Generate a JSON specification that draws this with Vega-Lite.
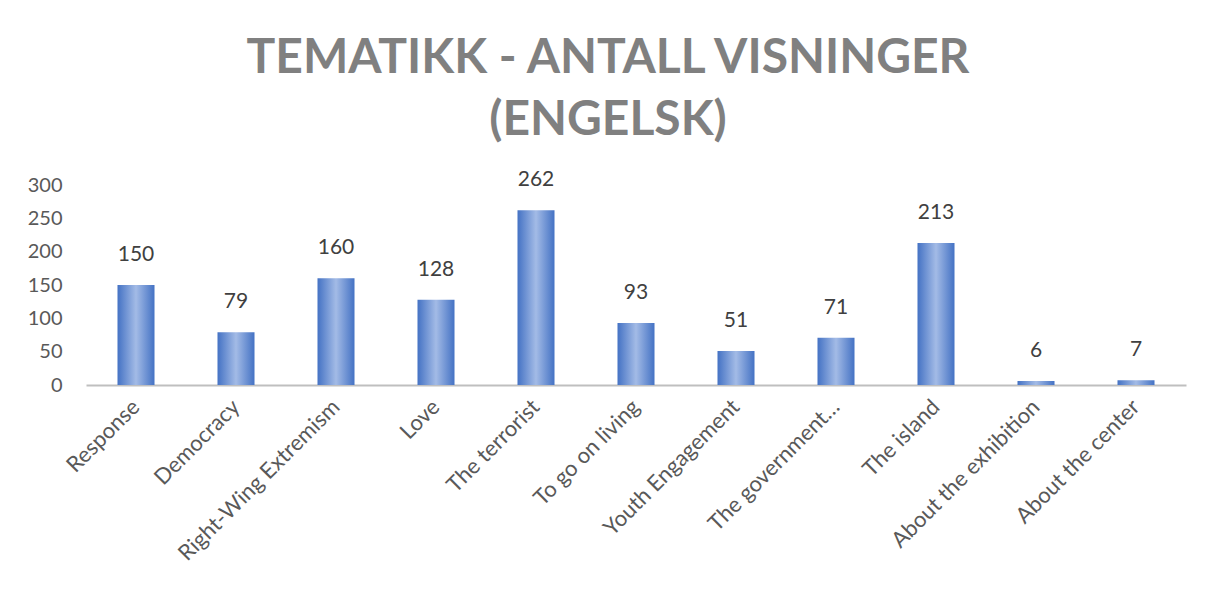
{
  "$schema": "https://vega.github.io/schema/vega-lite/v6.json",
  "width": 1100,
  "height": 200,
  "autosize": {"type": "none"},
  "padding": {"left": 86, "top": 185, "right": 26, "bottom": 211},
  "background": "white",
  "title": {
    "text": ["TEMATIKK - ANTALL VISNINGER", "(ENGELSK)"],
    "font": "Lato",
    "fontSize": 48,
    "fontWeight": "bold",
    "color": "#808080",
    "lineHeight": 62,
    "anchor": "middle",
    "offset": 24,
    "dx": -28
  },
  "data": {
    "values": [
      {"tema": "Response", "visninger": 150},
      {"tema": "Democracy", "visninger": 79},
      {"tema": "Right-Wing Extremism", "visninger": 160},
      {"tema": "Love", "visninger": 128},
      {"tema": "The terrorist", "visninger": 262},
      {"tema": "To go on living", "visninger": 93},
      {"tema": "Youth Engagement", "visninger": 51},
      {"tema": "The government…", "visninger": 71},
      {"tema": "The island", "visninger": 213},
      {"tema": "About the exhibition", "visninger": 6},
      {"tema": "About the center", "visninger": 7}
    ]
  },
  "encoding": {
    "x": {
      "field": "tema",
      "type": "nominal",
      "sort": null,
      "scale": {"paddingInner": 0.63, "paddingOuter": 0.315},
      "axis": {
        "title": null,
        "labelAngle": -45,
        "labelAlign": "right",
        "labelBaseline": "middle",
        "labelFont": "Lato",
        "labelFontSize": 22,
        "labelColor": "#595959",
        "labelPadding": 18,
        "labelLimit": 0,
        "labelOverlap": false,
        "ticks": false,
        "domainColor": "#bfbfbf",
        "domainWidth": 2
      }
    },
    "y": {
      "field": "visninger",
      "type": "quantitative",
      "scale": {"domain": [0, 300], "nice": false},
      "axis": {
        "title": null,
        "values": [0, 50, 100, 150, 200, 250, 300],
        "grid": false,
        "domain": false,
        "ticks": false,
        "labelFont": "Lato",
        "labelFontSize": 20,
        "labelColor": "#595959",
        "labelPadding": 24
      }
    }
  },
  "layer": [
    {
      "mark": {
        "type": "bar",
        "color": {
          "gradient": "linear",
          "x1": 0, "y1": 0, "x2": 1, "y2": 0,
          "stops": [
            {"offset": 0, "color": "#4472c4"},
            {"offset": 0.5, "color": "#a3bbe6"},
            {"offset": 1, "color": "#4472c4"}
          ]
        }
      }
    },
    {
      "mark": {
        "type": "text",
        "dy": -20,
        "baseline": "bottom",
        "font": "Lato",
        "fontSize": 21,
        "color": "#404040"
      },
      "encoding": {"text": {"field": "visninger", "type": "quantitative"}}
    }
  ],
  "config": {"view": {"stroke": null}}
}
